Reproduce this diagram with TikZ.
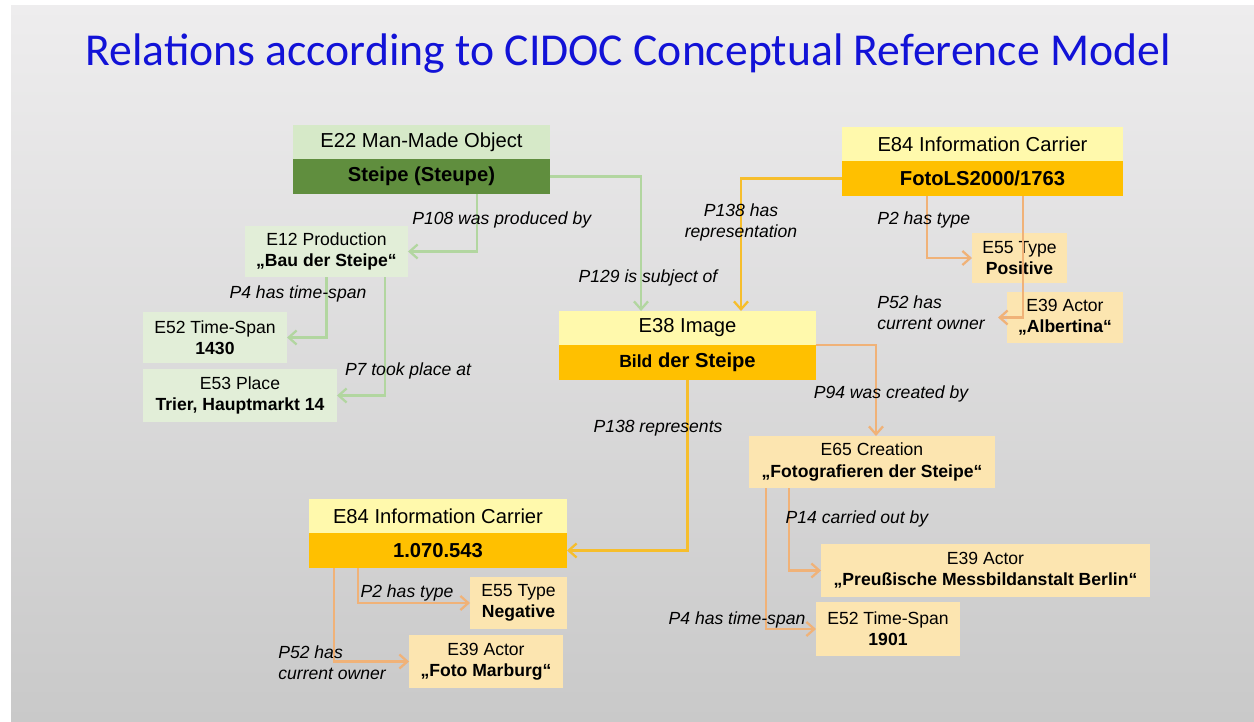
\documentclass[tikz,border=0pt]{standalone}
\usepackage{fontspec}
\setmainfont{Liberation Sans}
\newfontfamily\titlefont{Carlito}
\usetikzlibrary{arrows.meta,positioning}

\definecolor{bgTop}{RGB}{238,237,238}
\definecolor{bgBot}{RGB}{201,201,201}
\definecolor{titleBlue}{RGB}{18,18,215}
\definecolor{gHead}{RGB}{214,233,200}
\definecolor{gBand}{RGB}{96,142,62}
\definecolor{gLight}{RGB}{226,238,216}
\definecolor{yHead}{RGB}{255,249,172}
\definecolor{yBand}{RGB}{255,192,0}
\definecolor{tanBox}{RGB}{252,229,176}
\definecolor{gWire}{RGB}{178,214,160}
\definecolor{yWire}{RGB}{246,190,44}
\definecolor{tWire}{RGB}{240,178,120}

\begin{document}
\begin{tikzpicture}[
    x=0.02cm, y=-0.02cm,
    head/.style={minimum height=0.68cm, inner sep=0pt, outer sep=0pt, font=\fontsize{11.5}{13}\selectfont},
    band/.style={minimum height=0.70cm, inner sep=0pt, outer sep=0pt, font=\bfseries\fontsize{11.5}{13}\selectfont},
    ent/.style={align=center, inner sep=0pt, outer sep=0pt, minimum height=1.04cm, font=\fontsize{10}{12}\selectfont},
    lbl/.style={font=\itshape\fontsize{10}{12}\selectfont, inner sep=0pt},
    tip/.style={-{Straight Barb[length=4.5pt,width=8pt]}},
    gwire/.style={tip, draw=gWire, line width=1.3pt},
    ywire/.style={tip, draw=yWire, line width=1.3pt},
    twire/.style={tip, draw=tWire, line width=1.3pt}
  ]
  \useasboundingbox (0,0) rectangle (1254,721);
  \fill[white] (0,0) rectangle (1254,721);
  \shade[top color=bgTop, bottom color=bgBot] (11,5) rectangle (1254,721);

  \node[font=\titlefont\fontsize{26}{30}\selectfont, text=titleBlue, anchor=base] (title) at (628,65)
    {Relations according to CIDOC Conceptual Reference Model};

  % object and its production
  \node[head, fill=gHead, minimum width=5.14cm] (e22h) at (421.5,142) {E22 Man-Made Object};
  \node[band, fill=gBand, minimum width=5.14cm, below=0pt of e22h] (e22) {Steipe (Steupe)};
  \node[ent, fill=gLight, minimum width=3.26cm, minimum height=1.02cm] (e12) at (326.5,251.5) {E12 Production\\\textbf{„Bau der Steipe“}};
  \node[ent, fill=gLight, minimum width=2.88cm, minimum height=1.02cm] (e52a) at (215,337.5) {E52 Time-Span\\\textbf{1430}};
  \node[ent, fill=gLight, minimum width=3.88cm, minimum height=1.06cm] (e53) at (240,395.5) {E53 Place\\\textbf{Trier, Hauptmarkt 14}};

  % photo carrier
  \node[head, fill=yHead, minimum width=5.62cm] (e84th) at (982.5,144) {E84 Information Carrier};
  \node[band, fill=yBand, minimum width=5.62cm, below=0pt of e84th] (e84t) {FotoLS2000/1763};
  \node[ent, fill=tanBox, minimum width=1.9cm, minimum height=1.0cm] (e55p) at (1019.5,258) {E55 Type\\\textbf{Positive}};
  \node[ent, fill=tanBox, minimum width=2.32cm, minimum height=1.02cm] (e39a) at (1065,317.5) {E39 Actor\\\textbf{„Albertina“}};

  % image
  \node[head, fill=yHead, minimum width=5.14cm] (e38h) at (687.5,328) {E38 Image};
  \node[band, fill=yBand, minimum width=5.14cm, below=0pt of e38h] (e38) {{\fontsize{10}{12}\selectfont Bild} der Steipe};
  \node[ent, fill=tanBox, minimum width=4.92cm] (e65) at (872,462) {E65 Creation\\\textbf{„Fotografieren der Steipe“}};
  \node[ent, fill=tanBox, minimum width=6.58cm, minimum height=1.06cm] (e39p) at (985.5,570.5) {E39 Actor\\\textbf{„Preußische Messbildanstalt Berlin“}};
  \node[ent, fill=tanBox, minimum width=2.88cm, minimum height=1.08cm] (e52b) at (888,629) {E52 Time-Span\\\textbf{1901}};

  % negative carrier
  \node[head, fill=yHead, minimum width=5.16cm] (e84bh) at (438,516) {E84 Information Carrier};
  \node[band, fill=yBand, minimum width=5.16cm, below=0pt of e84bh] (e84b) {1.070.543};
  \node[ent, fill=tanBox, minimum width=1.94cm] (e55n) at (518.5,603) {E55 Type\\\textbf{Negative}};
  \node[ent, fill=tanBox, minimum width=3.08cm, minimum height=1.06cm] (e39f) at (486,661.5) {E39 Actor\\\textbf{„Foto Marburg“}};

  % connectors
  \draw[gwire] ([xshift=1.11cm]e22.south) |- (e12.east);
  \draw[gwire] (e12.south) |- (e52a.east);
  \draw[gwire] ([xshift=1.17cm]e12.south) |- (e53.east);
  \draw[gwire] (e22.east) -| ([xshift=-0.93cm]e38h.north);
  \draw[ywire] (e84t.west) -| ([xshift=1.07cm]e38h.north);
  \draw[twire] ([xshift=-1.11cm]e84t.south) |- (e55p.west);
  \draw[twire] ([xshift=0.81cm]e84t.south) |- ([xshift=-0.18cm]e39a.west);
  \draw[twire] (e38h.south east) -| ([xshift=0.08cm]e65.north);
  \draw[ywire] (e38.south) |- (e84b.east);
  \draw[twire] ([xshift=-1.6cm]e84b.south) |- (e55n.west);
  \draw[twire] ([xshift=-2.08cm]e84b.south) |- (e39f.west);
  \draw[twire] ([xshift=-1.66cm]e65.south) |- (e39p.west);
  \draw[twire] ([xshift=-2.12cm]e65.south) |- (e52b.west);

  % property labels
  \node[lbl, anchor=west] (p108) at (412,220) {P108 was produced by};
  \node[lbl] (p4a) at (298,294) {P4 has time-span};
  \node[lbl] (p7) at (408,371) {P7 took place at};
  \node[lbl] (p129) at (648,278) {P129 is subject of};
  \node[lbl, align=center] (p138a) at (741,222) {P138 has\\representation};
  \node[lbl, anchor=west] (p2a) at (877,220) {P2 has type};
  \node[lbl, anchor=west, align=left] (p52a) at (877,313) {P52 has\\current owner};
  \node[lbl] (p94) at (891,394) {P94 was created by};
  \node[lbl] (p138b) at (658,428) {P138 represents};
  \node[lbl] (p14) at (857,519) {P14 carried out by};
  \node[lbl] (p4b) at (737,620) {P4 has time-span};
  \node[lbl] (p2b) at (407,593) {P2 has type};
  \node[lbl, anchor=west, align=left] (p52b) at (278,663) {P52 has\\current owner};
\end{tikzpicture}
\end{document}
